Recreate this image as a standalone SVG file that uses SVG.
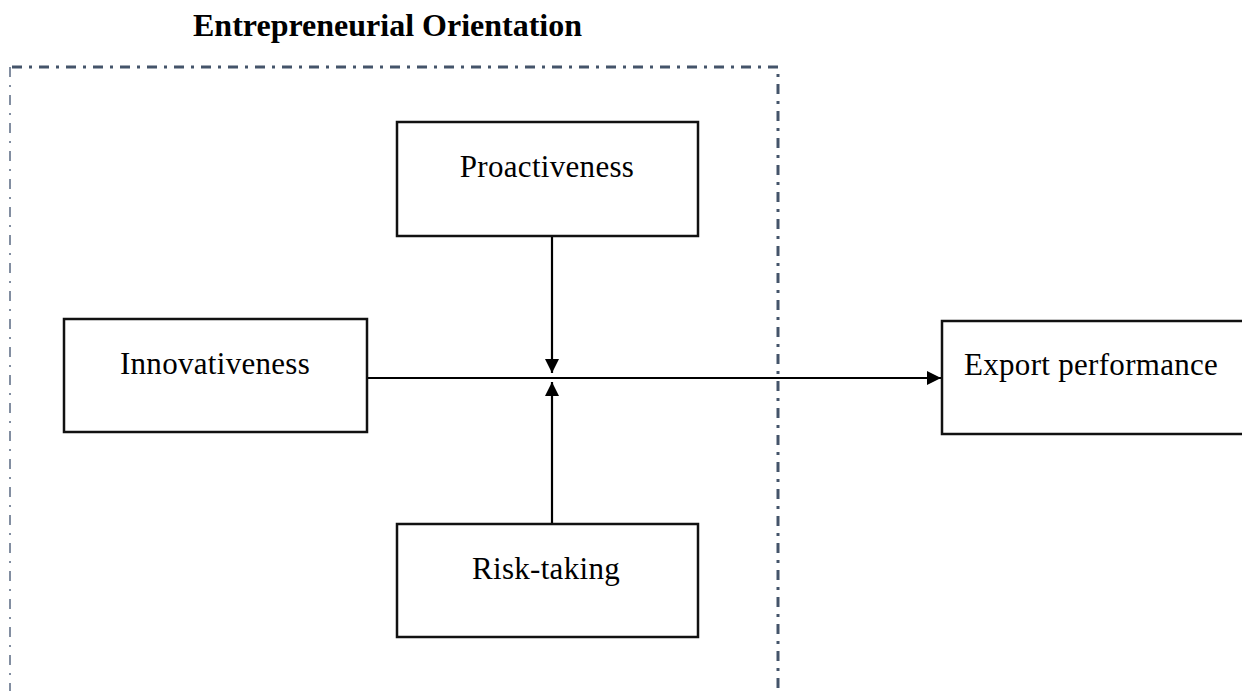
<svg xmlns="http://www.w3.org/2000/svg" width="1242" height="691" viewBox="0 0 1242 691">
<style>
.box{fill:#fff;stroke:#111;stroke-width:2.5}
.lbl{font-family:"Liberation Serif","Times New Roman",serif;font-size:31px;letter-spacing:0.3px;fill:#000}
.title{font-family:"Liberation Serif","Times New Roman",serif;font-size:32px;font-weight:bold;fill:#000}
.conn{stroke:#000;stroke-width:2.2;fill:none}
.frame{stroke:#44546A;fill:none;stroke-width:3;stroke-dasharray:10 7 3 7}
</style>
<defs>
<marker id="arr" viewBox="0 0 14 14" refX="14" refY="7" markerWidth="14" markerHeight="14" markerUnits="userSpaceOnUse" orient="auto">
<path d="M0,0 L14,7 L0,14 Z" fill="#000"/>
</marker>
</defs>
<rect width="1242" height="691" fill="#fff"/>
<text class="title" x="193" y="36">Entrepreneurial Orientation</text>
<g id="frame">
<path class="frame" d="M12,67 H778 V700"/>
<path d="M10,67 V700" stroke="#5a6a82" stroke-width="1.5" fill="none" stroke-dasharray="10 8 2 8"/>
</g>
<g id="connectors">
<line class="conn" x1="368" y1="378" x2="941" y2="378" marker-end="url(#arr)"/>
<line class="conn" x1="552" y1="236" x2="552" y2="373" marker-end="url(#arr)"/>
<line class="conn" x1="552" y1="524" x2="552" y2="382" marker-end="url(#arr)"/>
</g>
<g id="proactiveness">
<rect class="box" x="397" y="122" width="301" height="114"/>
<text class="lbl" x="547" y="177" text-anchor="middle">Proactiveness</text>
</g>
<g id="innovativeness">
<rect class="box" x="64" y="319" width="303" height="113"/>
<text class="lbl" x="215" y="374" text-anchor="middle">Innovativeness</text>
</g>
<g id="risk-taking">
<rect class="box" x="397" y="524" width="301" height="113"/>
<text class="lbl" x="546" y="579" text-anchor="middle">Risk-taking</text>
</g>
<g id="export-performance">
<rect class="box" x="942" y="321" width="320" height="113"/>
<text class="lbl" x="964" y="375">Export performance</text>
</g>
</svg>
